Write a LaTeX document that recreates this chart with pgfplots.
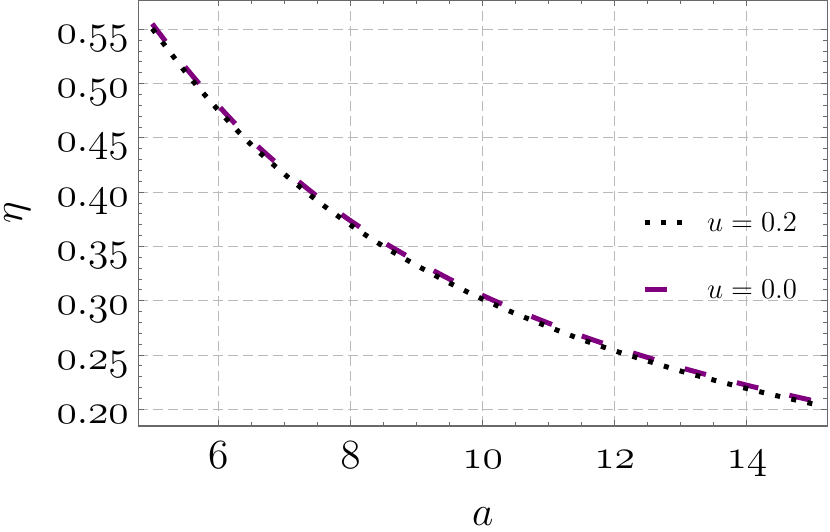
\documentclass[border=0pt]{standalone}
\usepackage{pgfplots}
\usepackage{pgfplotstable}
\pgfplotsset{compat=1.18}

\definecolor{curvepurple}{RGB}{128,0,128}
\definecolor{framegray}{RGB}{105,105,105}
\definecolor{gridgray}{RGB}{185,185,185}

\pgfplotsset{
  short legend/.style={legend image code/.code={\draw[##1] (0pt,0pt) -- (12pt,0pt);}},
  long legend/.style={legend image code/.code={\draw[##1] (0pt,0pt) -- (19.5pt,0pt);}},
}

% eta(a), u = 0.2 (dotted) and u = 0.0 (dashed)
\pgfplotstableread{
a     eta
5.0   0.5506
5.5   0.5108
6.0   0.4755
6.5   0.4436
7.0   0.4166
7.5   0.3920
8.0   0.3698
8.5   0.3501
9.0   0.3326
9.5   0.3163
10.0  0.3014
10.5  0.2881
11.0  0.2759
11.5  0.2643
12.0  0.2539
12.5  0.2445
13.0  0.2352
13.5  0.2269
14.0  0.2191
14.5  0.2118
15.0  0.2050
}\uzwo
\pgfplotstableread{
a     eta
5.0   0.5551
5.5   0.5152
6.0   0.4798
6.5   0.4478
7.0   0.4207
7.5   0.3960
8.0   0.3737
8.5   0.3539
9.0   0.3363
9.5   0.3199
10.0  0.3049
10.5  0.2915
11.0  0.2793
11.5  0.2676
12.0  0.2572
12.5  0.2477
13.0  0.2384
13.5  0.2301
14.0  0.2222
14.5  0.2149
15.0  0.2080
}\unull

\begin{document}
\begin{tikzpicture}
\begin{axis}[
    scale only axis, width=344.5pt, height=213pt,
    xmin=4.79, xmax=15.22, ymin=0.1846, ymax=0.577,
    xtick={6,8,10,12,14},
    ytick={0.20,0.25,0.30,0.35,0.40,0.45,0.50,0.55},
    minor x tick num=3, minor y tick num=4,
    tick align=inside, major tick length=3pt, minor tick length=2pt,
    axis line style={framegray, line width=0.6pt},
    every tick/.style={framegray, line width=0.5pt},
    grid=major,
    major grid style={gridgray, line width=0.5pt, dash pattern=on 5pt off 2.5pt},
    xticklabel={$\mathnormal{\pgfmathprintnumber{\tick}}$},
    yticklabel={$\mathnormal{\pgfmathprintnumber[fixed,fixed zerofill,precision=2]{\tick}}$},
    xticklabel style={font=\huge, anchor=base, inner sep=0pt, yshift=-21.2pt},
    yticklabel style={font=\huge, anchor=base east, inner sep=0pt, xshift=-4.6pt, yshift=-7pt},
    xlabel={$a$}, ylabel={$\eta$},
    xlabel style={at={(axis description cs:0.5,-0.2136)}, anchor=center, inner sep=0pt, font=\huge},
    ylabel style={at={(axis description cs:-0.176,0.5)}, anchor=center, inner sep=0pt, font=\huge},
    reverse legend,
    legend cell align=left,
    legend style={draw=none, fill=none, inner sep=0pt, outer sep=0pt,
        at={(axis description cs:0.731,0.399)}, anchor=west,
        row sep=22.3pt, column sep=10.5pt,
        nodes={inner sep=0pt, text height=10pt, text depth=1pt, font=\Large}},
]
\addplot[curvepurple, line width=2.5pt, dash pattern=on 11pt off 16pt, smooth, short legend]
    table[x=a, y=eta] {\unull};
\addlegendentry{$u=0.0$}
\addplot[black, line width=2.5pt, dash pattern=on 2.5pt off 5.73pt, smooth, long legend]
    table[x=a, y=eta] {\uzwo};
\addlegendentry{$u=0.2$}
\end{axis}
\pgfresetboundingbox
\path ([shift={(-69.2pt,-52.5pt)}]current axis.south west) rectangle ([shift={(1.3pt,0pt)}]current axis.north east);
\end{tikzpicture}
\end{document}
